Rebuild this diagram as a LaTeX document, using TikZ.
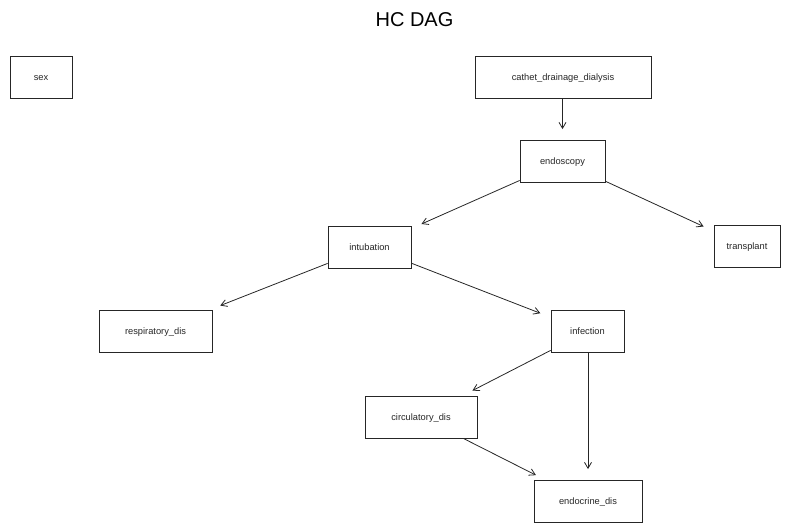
\documentclass[tikz,border=0pt]{standalone}
\usepackage{fontspec}
\setmainfont{Liberation Sans}
\usetikzlibrary{arrows.meta}
\tikzset{
  box/.style={draw=black!85, line width=0.8pt, inner sep=0pt, minimum height=42pt,
    text height=8pt, text depth=2pt, font=\fontsize{9.3}{11}\selectfont, text=black!85},
  edge/.style={draw=black!85, line width=0.8pt, shorten >=11pt,
    -{Straight Barb[length=6pt,width=7pt,line width=0.8pt]}}
}
\begin{document}
\begin{tikzpicture}[x=1pt,y=-1pt]
\useasboundingbox (0,0) rectangle (787,525);
\node[anchor=base, font=\fontsize{20}{24}\selectfont] (title) at (414.5,26.7) {HC DAG};
\node[box, minimum width=62pt]  (sex) at (41,77) {sex};
\node[box, minimum width=176pt] (cath) at (563,77) {cathet\_drainage\_dialysis};
\node[box, minimum width=85pt]  (endo) at (562.5,161.5) {endoscopy};
\node[box, minimum width=83pt]  (intu) at (369.5,247) {intubation};
\node[box, minimum width=66pt]  (tran) at (747,246.5) {transplant};
\node[box, minimum width=113pt] (resp) at (155.5,331) {respiratory\_dis};
\node[box, minimum width=73pt]  (infe) at (587.5,331.5) {infection};
\node[box, minimum width=112pt] (circ) at (421,417) {circulatory\_dis};
\node[box, minimum width=108pt] (endc) at (588,501.5) {endocrine\_dis};
\draw[edge] (cath.south -| endo.north) -- (endo.north);
\draw[edge] (endo) -- (intu);
\draw[edge] (endo) -- (tran);
\draw[edge] (intu) -- (resp);
\draw[edge] (intu) -- (infe);
\draw[edge] (infe) -- (circ);
\draw[edge] (infe.south -| endc.north) -- (endc.north);
\draw[edge] (circ) -- (endc);
\end{tikzpicture}
\end{document}
